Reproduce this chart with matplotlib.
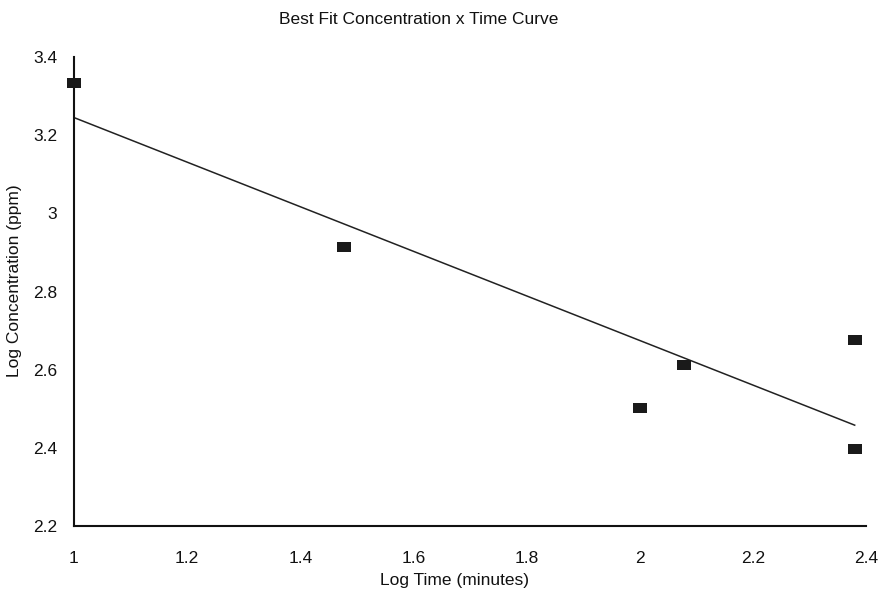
import matplotlib
matplotlib.use("Agg")
import matplotlib.pyplot as plt
from matplotlib.path import Path
from matplotlib.ticker import FuncFormatter, MultipleLocator

# Data
log_time = [1.0, 1.477, 2.0, 2.079, 2.380, 2.380]
log_conc = [3.333, 2.914, 2.503, 2.611, 2.677, 2.396]
fit_x = [1.0, 2.380]
fit_y = [3.245, 2.458]

title = "Best Fit Concentration x Time Curve"
xlabel = "Log Time (minutes)"
ylabel = "Log Concentration (ppm)"

plt.rcParams['font.family'] = ['Liberation Sans', 'DejaVu Sans']

fig = plt.figure(figsize=(8.79, 5.90), dpi=100)
W, H = 879, 590
left, right, top, bottom = 74, 866, 57, 526
ax = fig.add_axes([left / W, 1 - bottom / H, (right - left) / W, (bottom - top) / H])

rect = Path([(-1, -0.68), (1, -0.68), (1, 0.68), (-1, 0.68), (-1, -0.68)],
            [Path.MOVETO, Path.LINETO, Path.LINETO, Path.LINETO, Path.CLOSEPOLY])

ax.plot(fit_x, fit_y, color='#222222', lw=1.1, zorder=2)
ax.plot(log_time, log_conc, linestyle='none', marker=rect, markersize=10.5,
        color='#1a1a1a', markeredgewidth=0, zorder=3, clip_on=False)

ax.set_xlim(1.0, 2.4)
ax.set_ylim(2.2, 3.4)
ax.xaxis.set_major_locator(MultipleLocator(0.2))
ax.yaxis.set_major_locator(MultipleLocator(0.2))
fmt = FuncFormatter(lambda v, p: f"{round(v, 2):g}")
ax.xaxis.set_major_formatter(fmt)
ax.yaxis.set_major_formatter(fmt)

for s in ['top', 'right']:
    ax.spines[s].set_visible(False)
for s in ['left', 'bottom']:
    ax.spines[s].set_linewidth(1.5)
    ax.spines[s].set_color('#111111')

ax.tick_params(axis='both', length=0, labelsize=12.5, colors='#111111')
ax.tick_params(axis='x', pad=18)
ax.tick_params(axis='y', pad=12)

fig.text(419 / W, 1 - 20 / H, title, ha='center', va='center', fontsize=12.5, color='#111111')
fig.text(455 / W, 1 - 580 / H, xlabel, ha='center', va='center', fontsize=12.5, color='#111111')
fig.text(15 / W, 1 - 281 / H, ylabel, ha='center', va='center', rotation=90, fontsize=12.5, color='#111111')

fig.savefig("out.png", dpi=100)
